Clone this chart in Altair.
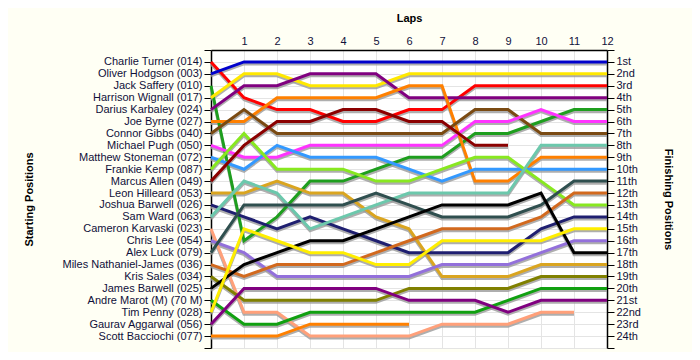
import altair as alt
import pandas as pd

# Starting grid (lap 0 order)
drivers = [
    "Charlie Turner (014)", "Oliver Hodgson (003)", "Jack Saffery (010)",
    "Harrison Wignall (017)", "Darius Karbaley (024)", "Joe Byrne (027)",
    "Connor Gibbs (040)", "Michael Pugh (050)", "Matthew Stoneman (072)",
    "Frankie Kemp (087)", "Marcus Allen (049)", "Leon Hilleard (053)",
    "Joshua Barwell (026)", "Sam Ward (063)", "Cameron Karvaski (023)",
    "Chris Lee (054)", "Alex Luck (079)", "Miles Nathaniel-James (036)",
    "Kris Sales (034)", "James Barwell (025)", "Andre Marot  (M) (70 M)",
    "Tim Penny (028)", "Gaurav Aggarwal (056)", "Scott Bacciochi (077)",
]

colors = [
    "#FF0000", "#0000CC", "#1E9E1E", "#FFE800", "#800080", "#FF8000",
    "#7A4A12", "#FF33FF", "#3399FF", "#88E820", "#8B0000", "#DAA520",
    "#1F1F70", "#6CC8AC", "#FFA07A", "#9370DB", "#2F4F4F", "#D2691E",
    "#808000", "#000000", "#10A010", "#FFEE00", "#800080", "#FF8000",
]

laps = list(range(13))
finish_labels = ["1st", "2nd", "3rd"] + [f"{i}th" for i in range(4, 21)] + ["21st", "22nd", "23rd", "24th"]

# Position per lap (lap 0 .. lap 12); None = retired / not classified
p_turner = [1, 4, 5, 5, 6, 6, 5, 5, 3, 3, 3, 3, 3]
p_hodgson = [2, 1, 1, 1, 1, 1, 1, 1, 1, 1, 1, 1, 1]
p_saffery = [3, 16, 14, 11, 11, 10, 9, 9, 7, 7, 6, 5, 5]
p_wignall = [4, 2, 2, 3, 3, 3, 2, 2, 2, 2, 2, 2, 2]
p_karbaley = [5, 3, 3, 2, 2, 2, 4, 4, 4, 4, 4, 4, 4]
p_byrne = [6, 6, 4, 4, 4, 4, 3, 3, 11, 11, 9, 9, 9]
p_gibbs = [7, 5, 7, 7, 7, 7, 7, 7, 5, 5, 7, 7, 7]
p_pugh = [8, 9, 9, 8, 8, 8, 8, 8, 6, 6, 5, 6, 6]
p_stoneman = [9, 10, 8, 9, 9, 9, 10, 11, 10, 10, 10, 10, 10]
p_kemp = [10, 7, 10, 10, 10, 11, 11, 10, 9, 9, 11, 13, 13]
p_allen = [11, 8, 6, 6, 5, 5, 6, 6, 8, 8, None, None, None]
p_hilleard = [12, 12, 11, 12, 12, 14, 15, 19, 19, 19, 18, 18, 18]
p_jbarwell = [13, 14, 15, 14, 15, 16, 17, 17, 17, 17, 15, 14, 14]
p_ward = [14, 11, 12, 15, 14, 13, 12, 12, 12, 12, 8, 8, 8]
p_karvaski = [15, 22, 22, 24, 24, 24, 24, 23, 23, 23, 22, 22, None]
p_lee = [16, 17, 19, 19, 19, 19, 19, 18, 18, 18, 17, 16, 16]
p_luck = [17, 13, 13, 13, 13, 12, 13, 14, 14, 14, 13, 11, 11]
p_nathaniel = [18, 19, 18, 18, 18, 17, 16, 15, 15, 15, 14, 12, 12]
p_sales = [19, 21, 21, 21, 21, 21, 20, 20, 20, 20, 19, 19, 19]
p_jamesb = [20, 18, 17, 16, 16, 15, 14, 13, 13, 13, 12, 17, 17]
p_marot = [21, 23, 23, 22, 22, 22, 22, 22, 22, 21, 20, 20, 20]
p_penny = [22, 15, 16, 17, 17, 18, 18, 16, 16, 16, 16, 15, 15]
p_aggarwal = [23, 20, 20, 20, 20, 20, 21, 21, 21, 22, 21, 21, 21]
p_bacciochi = [24, 24, 24, 23, 23, 23, 23, None, None, None, None, None, None]

positions = [
    p_turner, p_hodgson, p_saffery, p_wignall, p_karbaley, p_byrne, p_gibbs,
    p_pugh, p_stoneman, p_kemp, p_allen, p_hilleard, p_jbarwell, p_ward,
    p_karvaski, p_lee, p_luck, p_nathaniel, p_sales, p_jamesb, p_marot,
    p_penny, p_aggarwal, p_bacciochi,
]

rows = []
for i, (name, pos) in enumerate(zip(drivers, positions)):
    for lap, p in zip(laps, pos):
        if p is not None:
            rows.append({"driver": name, "order": i, "lap": lap, "pos": p})
df = pd.DataFrame(rows)

FONT = "Liberation Sans"
LABEL_COLOR = "#10103A"

name_expr = "[" + ",".join(["''"] + [f"'{n}'" for n in drivers] + ["''"]) + "][datum.value]"
finish_expr = "[" + ",".join(["''"] + [f"'{n}'" for n in finish_labels] + ["''"]) + "][datum.value]"

x_scale = alt.Scale(domain=[0, 12], nice=False, zero=False)
y_scale = alt.Scale(domain=[0, 25], reverse=True, nice=False, zero=False)

x_axis = alt.Axis(
    orient="top", values=laps, title="Laps", titleFont=FONT, titleFontSize=11,
    titleFontWeight="bold", titleColor="#000000", titlePadding=12,
    labelExpr="datum.value == 0 ? '' : datum.value", labelFont=FONT,
    labelFontSize=11, labelColor=LABEL_COLOR, labelPadding=4, ticks=False,
    labelFlush=False, labelOverlap=False,
    domainColor="#000000", domainWidth=1.5, grid=True, gridColor="#E4E4E4",
)

left_axis = alt.Axis(
    orient="left", values=list(range(26)), labelExpr=name_expr,
    title="Starting Positions", titleFont=FONT, titleFontSize=11,
    titleFontWeight="bold", titleColor="#000000", titlePadding=28,
    labelFont=FONT, labelFontSize=11, labelColor=LABEL_COLOR, labelPadding=2,
    labelOverlap=False,
    tickSize=7, tickColor="#000000", domainColor="#000000", domainWidth=1.5,
    grid=True, gridColor="#E4E4E4",
)

right_axis = alt.Axis(
    orient="right", values=list(range(26)), labelExpr=finish_expr,
    title="Finishing Positions", titleFont=FONT, titleFontSize=11,
    titleFontWeight="bold", titleColor="#000000", titlePadding=22,
    labelFont=FONT, labelFontSize=11, labelColor=LABEL_COLOR, labelPadding=2,
    labelOverlap=False,
    tickSize=7, tickColor="#000000", domainColor="#000000", domainWidth=1.5,
    grid=False,
)

color_scale = alt.Scale(domain=drivers, range=colors)

shadow = alt.Chart(df).transform_calculate(
    spos="datum.pos + 0.17"
).mark_line(color="#9A9A9A", strokeWidth=3, opacity=0.8).encode(
    x=alt.X("lap:Q", scale=x_scale, axis=x_axis),
    y=alt.Y("spos:Q", scale=y_scale, axis=left_axis),
    detail="driver:N",
    order="lap:Q",
)

lines = alt.Chart(df).mark_line(strokeWidth=3).encode(
    x=alt.X("lap:Q", scale=x_scale, axis=x_axis),
    y=alt.Y("pos:Q", scale=y_scale, axis=right_axis),
    color=alt.Color("driver:N", scale=color_scale, legend=None),
    detail="driver:N",
    order="lap:Q",
)

chart = alt.layer(shadow, lines).resolve_axis(y="independent").properties(
    width=396,
    height=298,
    background="#FFFFF4",
    autosize=alt.AutoSizeParams(type="none"),
    padding={"left": 203, "top": 42, "right": 85, "bottom": 4},
).configure_view(fill="#FFFFFF", stroke=None)

chart.save("out.html", embed_options={"renderer": "svg", "actions": False})
